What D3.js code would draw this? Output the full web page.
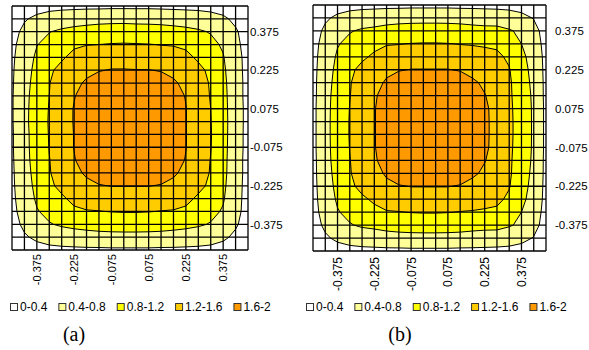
<!DOCTYPE html>
<html>
<head>
<meta charset="utf-8">
<script src="https://cdn.jsdelivr.net/npm/d3@7"></script>
<style>
  body { margin: 0; background: #fff; }
  svg { display: block; }
  text { font-family: "Liberation Sans", Arial, sans-serif; fill: #000; }
</style>
</head>
<body>
<svg id="chart" width="589" height="350"></svg>
<script>
// grid categories (one grid line per data point)
const xCategories = [-0.475, -0.425, -0.375, -0.325, -0.275, -0.225, -0.175, -0.125, -0.075, -0.025,
  0.025, 0.075, 0.125, 0.175, 0.225, 0.275, 0.325, 0.375, 0.425, 0.475];
const yCategories = [0.475, 0.425, 0.375, 0.325, 0.275, 0.225, 0.175, 0.125, 0.075, 0.025,
  -0.025, -0.075, -0.125, -0.175, -0.225, -0.275, -0.325, -0.375, -0.425, -0.475];
const tickValues = [-0.375, -0.225, -0.075, 0.075, 0.225, 0.375];
const tickLabels = ['-0.375', '-0.225', '-0.075', '0.075', '0.225', '0.375'];
const levels = [0.4, 0.8, 1.2, 1.6];
const bandLabels = ['0-0.4', '0.4-0.8', '0.8-1.2', '1.2-1.6', '1.6-2'];
const captions = ['(a)', '(b)'];

// surface values, rows top (y = 0.475) to bottom
const zA = [
  [0.05,0.16,0.23,0.27,0.29,0.30,0.31,0.31,0.32,0.32,0.32,0.32,0.31,0.30,0.29,0.28,0.26,0.22,0.14,0.04],
  [0.17,0.36,0.49,0.58,0.63,0.66,0.68,0.70,0.71,0.71,0.70,0.70,0.69,0.67,0.65,0.62,0.56,0.47,0.31,0.13],
  [0.25,0.50,0.71,0.79,0.85,0.89,0.92,0.94,0.95,0.96,0.95,0.94,0.93,0.91,0.88,0.84,0.78,0.68,0.45,0.21],
  [0.30,0.59,0.79,0.89,1.07,1.15,1.19,1.20,1.22,1.23,1.22,1.21,1.19,1.18,1.14,1.06,0.88,0.76,0.50,0.24],
  [0.33,0.64,0.85,1.07,1.16,1.29,1.35,1.39,1.41,1.42,1.41,1.40,1.38,1.34,1.28,1.15,1.05,0.82,0.55,0.26],
  [0.35,0.67,0.89,1.15,1.29,1.43,1.53,1.58,1.62,1.62,1.61,1.61,1.58,1.53,1.42,1.28,1.13,0.86,0.56,0.27],
  [0.36,0.69,0.92,1.19,1.35,1.53,1.64,1.77,1.79,1.80,1.79,1.78,1.76,1.64,1.53,1.34,1.17,0.89,0.57,0.28],
  [0.37,0.71,0.94,1.20,1.39,1.58,1.77,1.84,1.87,1.88,1.87,1.86,1.83,1.76,1.58,1.38,1.18,0.91,0.57,0.28],
  [0.37,0.72,0.95,1.22,1.41,1.62,1.79,1.87,1.91,1.92,1.91,1.90,1.86,1.78,1.61,1.40,1.20,0.92,0.58,0.29],
  [0.37,0.72,0.96,1.23,1.42,1.62,1.80,1.88,1.92,1.93,1.92,1.91,1.87,1.79,1.61,1.41,1.21,0.93,0.58,0.29],
  [0.36,0.71,0.95,1.22,1.41,1.61,1.79,1.87,1.91,1.92,1.92,1.91,1.87,1.79,1.61,1.41,1.22,0.93,0.57,0.29],
  [0.36,0.71,0.94,1.21,1.40,1.61,1.78,1.86,1.90,1.91,1.91,1.90,1.86,1.78,1.61,1.40,1.21,0.92,0.57,0.29],
  [0.35,0.70,0.93,1.19,1.38,1.58,1.76,1.83,1.86,1.87,1.87,1.86,1.83,1.76,1.58,1.38,1.19,0.91,0.56,0.28],
  [0.34,0.68,0.91,1.18,1.34,1.53,1.64,1.76,1.78,1.79,1.79,1.78,1.76,1.64,1.53,1.34,1.18,0.90,0.56,0.28],
  [0.33,0.66,0.88,1.14,1.28,1.42,1.53,1.58,1.61,1.61,1.61,1.61,1.58,1.53,1.42,1.28,1.14,0.87,0.55,0.27],
  [0.31,0.63,0.84,1.06,1.15,1.28,1.34,1.38,1.40,1.41,1.41,1.40,1.38,1.34,1.28,1.15,1.06,0.83,0.54,0.26],
  [0.28,0.58,0.78,0.88,1.06,1.14,1.18,1.19,1.21,1.22,1.22,1.21,1.19,1.18,1.14,1.06,0.88,0.77,0.52,0.25],
  [0.23,0.49,0.70,0.78,0.84,0.88,0.91,0.93,0.94,0.95,0.95,0.94,0.93,0.91,0.88,0.84,0.78,0.69,0.45,0.22],
  [0.16,0.35,0.48,0.57,0.62,0.65,0.67,0.69,0.70,0.70,0.70,0.70,0.69,0.67,0.65,0.62,0.57,0.47,0.32,0.15],
  [0.06,0.17,0.25,0.29,0.31,0.32,0.33,0.33,0.34,0.34,0.34,0.34,0.33,0.33,0.32,0.31,0.29,0.25,0.16,0.05]
];
const zB = [
  [0.04,0.14,0.22,0.26,0.28,0.29,0.30,0.30,0.31,0.31,0.31,0.31,0.30,0.30,0.29,0.28,0.27,0.24,0.17,0.06],
  [0.15,0.34,0.48,0.57,0.62,0.64,0.67,0.69,0.70,0.70,0.70,0.70,0.69,0.67,0.66,0.65,0.60,0.51,0.38,0.16],
  [0.22,0.48,0.70,0.78,0.84,0.87,0.91,0.93,0.94,0.95,0.95,0.94,0.93,0.91,0.89,0.89,0.83,0.74,0.53,0.24],
  [0.25,0.57,0.78,0.88,1.06,1.12,1.18,1.19,1.21,1.22,1.22,1.21,1.19,1.18,1.16,1.14,0.93,0.80,0.61,0.26],
  [0.27,0.62,0.84,1.06,1.15,1.25,1.34,1.38,1.40,1.41,1.41,1.40,1.38,1.34,1.31,1.27,1.14,0.87,0.68,0.28],
  [0.28,0.65,0.88,1.14,1.28,1.39,1.53,1.58,1.61,1.61,1.61,1.61,1.58,1.53,1.45,1.40,1.22,0.91,0.71,0.29],
  [0.29,0.67,0.91,1.18,1.34,1.50,1.64,1.76,1.78,1.79,1.79,1.78,1.76,1.64,1.56,1.46,1.26,0.94,0.73,0.30],
  [0.29,0.69,0.93,1.19,1.38,1.55,1.76,1.83,1.86,1.87,1.87,1.86,1.83,1.76,1.61,1.50,1.27,0.96,0.75,0.30],
  [0.30,0.70,0.94,1.21,1.40,1.58,1.78,1.86,1.90,1.91,1.91,1.90,1.86,1.78,1.64,1.52,1.29,0.97,0.76,0.31],
  [0.30,0.70,0.95,1.22,1.41,1.58,1.79,1.87,1.91,1.92,1.92,1.91,1.87,1.79,1.64,1.53,1.30,0.98,0.76,0.31],
  [0.30,0.70,0.95,1.22,1.41,1.58,1.79,1.87,1.91,1.92,1.92,1.91,1.87,1.79,1.64,1.53,1.30,0.98,0.76,0.31],
  [0.30,0.70,0.94,1.21,1.40,1.58,1.78,1.86,1.90,1.91,1.91,1.90,1.86,1.78,1.64,1.52,1.29,0.97,0.76,0.31],
  [0.29,0.69,0.93,1.19,1.38,1.55,1.76,1.83,1.86,1.87,1.87,1.86,1.83,1.76,1.61,1.50,1.27,0.96,0.75,0.30],
  [0.29,0.67,0.91,1.18,1.34,1.50,1.64,1.76,1.78,1.79,1.79,1.78,1.76,1.64,1.56,1.46,1.26,0.94,0.73,0.30],
  [0.28,0.65,0.88,1.14,1.28,1.39,1.53,1.58,1.61,1.61,1.61,1.61,1.58,1.53,1.45,1.40,1.22,0.91,0.71,0.29],
  [0.27,0.62,0.84,1.06,1.15,1.25,1.34,1.38,1.40,1.41,1.41,1.40,1.38,1.34,1.31,1.27,1.14,0.87,0.68,0.28],
  [0.25,0.57,0.78,0.88,1.06,1.12,1.18,1.19,1.21,1.22,1.22,1.21,1.19,1.18,1.16,1.14,0.93,0.80,0.61,0.26],
  [0.22,0.48,0.70,0.78,0.84,0.87,0.91,0.93,0.94,0.95,0.95,0.94,0.93,0.91,0.89,0.89,0.83,0.74,0.53,0.24],
  [0.15,0.34,0.48,0.57,0.62,0.64,0.67,0.69,0.70,0.70,0.70,0.70,0.69,0.67,0.66,0.65,0.60,0.51,0.38,0.16],
  [0.05,0.15,0.23,0.27,0.29,0.30,0.31,0.31,0.32,0.32,0.32,0.32,0.31,0.31,0.30,0.29,0.28,0.25,0.18,0.06]
];

const bandColors = ['#ffffff', '#ffff99', '#ffff00', '#ffcc00', '#ff9900'];
const sansFont = '"Liberation Sans", Arial, sans-serif';

const panels = [
  { z: zA, left: 12, right: 248, top: 6, bottom: 250, yPad: 2, xPad: 4, xFont: 11, legendX: 10, capX: 74 },
  { z: zB, left: 313, right: 546, top: 5, bottom: 251, yPad: 9, xPad: 6, xFont: 12, legendX: 306, capX: 400 }
];

const svg = d3.select('#chart');

panels.forEach((p, k) => {
  const g = svg.append('g');
  const n = xCategories.length;
  const step = xCategories[1] - xCategories[0];

  const x = d3.scaleLinear().domain([xCategories[0], xCategories[n - 1]]).range([p.left, p.right]);
  const y = d3.scaleLinear().domain([yCategories[n - 1], yCategories[0]]).range([p.bottom, p.top]);

  // d3.contours puts value i at i + 0.5
  const proj = d3.geoTransform({
    point(cx, cy) {
      this.stream.point(x(xCategories[0] + (cx - 0.5) * step), y(yCategories[0] - (cy - 0.5) * step));
    }
  });
  const path = d3.geoPath(proj);
  const bands = d3.contours().size([n, n]).thresholds(levels)(p.z.flat());

  svg.append('clipPath').attr('id', 'clip' + k)
    .append('rect')
    .attr('x', p.left).attr('y', p.top)
    .attr('width', p.right - p.left).attr('height', p.bottom - p.top);

  const plot = g.append('g').attr('clip-path', `url(#clip${k})`);
  plot.append('rect')
    .attr('x', p.left).attr('y', p.top)
    .attr('width', p.right - p.left).attr('height', p.bottom - p.top)
    .attr('fill', bandColors[0]);

  plot.selectAll('path.band')
    .data(bands)
    .join('path')
    .attr('class', 'band')
    .attr('d', path)
    .attr('fill', (d, i) => bandColors[i + 1])
    .attr('stroke', '#000')
    .attr('stroke-width', 1);

  // wireframe
  g.selectAll('line.gx')
    .data(xCategories)
    .join('line')
    .attr('class', 'gx')
    .attr('x1', d => x(d)).attr('x2', d => x(d))
    .attr('y1', p.top).attr('y2', p.bottom)
    .attr('stroke', '#000').attr('stroke-width', 1.3);
  g.selectAll('line.gy')
    .data(yCategories)
    .join('line')
    .attr('class', 'gy')
    .attr('y1', d => y(d)).attr('y2', d => y(d))
    .attr('x1', p.left).attr('x2', p.right)
    .attr('stroke', '#000').attr('stroke-width', 1.3);

  // right axis labels
  const ya = g.append('g')
    .attr('transform', `translate(${p.right},0)`)
    .call(d3.axisRight(y).tickValues(tickValues).tickSize(0).tickPadding(p.yPad)
      .tickFormat((d, i) => tickLabels[i]));
  ya.attr('font-family', null);
  ya.select('.domain').remove();
  ya.selectAll('text').style('font-size', '11.5px').style('font-family', sansFont);

  // bottom axis labels, rotated
  const xa = g.append('g')
    .attr('transform', `translate(0,${p.bottom})`)
    .call(d3.axisBottom(x).tickValues(tickValues).tickSize(0)
      .tickFormat((d, i) => tickLabels[i]));
  xa.attr('font-family', null);
  xa.select('.domain').remove();
  xa.selectAll('text')
    .attr('transform', 'rotate(-90)')
    .attr('x', -p.xPad).attr('y', 0).attr('dy', '0.33em')
    .style('text-anchor', 'end')
    .style('font-size', p.xFont + 'px')
    .style('font-family', sansFont);

  // legend
  const leg = g.append('g').attr('transform', 'translate(0,307)');
  let lx = p.legendX;
  bandLabels.forEach((lab, i) => {
    leg.append('rect')
      .attr('x', lx + 0.5).attr('y', -3.5)
      .attr('width', 7).attr('height', 7)
      .attr('fill', bandColors[i]).attr('stroke', '#333').attr('stroke-width', 1);
    const t = leg.append('text')
      .attr('x', lx + 10).attr('y', 0).attr('dy', '0.36em')
      .style('font-size', '12px')
      .style('font-family', sansFont)
      .text(lab);
    lx += 10 + t.node().getComputedTextLength() + 11;
  });

  g.append('text')
    .attr('x', p.capX).attr('y', 341)
    .attr('text-anchor', 'middle')
    .style('font-family', '"Liberation Serif", "Times New Roman", serif')
    .style('font-size', '20px')
    .text(captions[k]);
});
</script>
</body>
</html>
